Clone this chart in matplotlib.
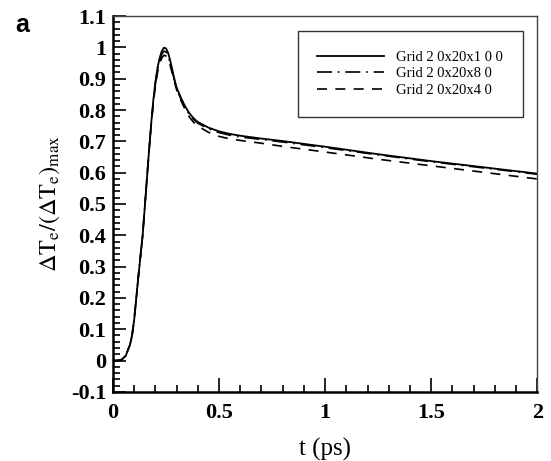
import numpy as np
import matplotlib
matplotlib.use("Agg")
import matplotlib.pyplot as plt

plt.rcParams['font.family'] = ['Liberation Serif', 'DejaVu Serif']
plt.rcParams['mathtext.fontset'] = 'stix'

# normalized electron temperature rise vs time for three grid sizes
t = [0.0, 0.02, 0.04, 0.06, 0.08, 0.09, 0.10, 0.11, 0.12, 0.13, 0.14, 0.15,
     0.16, 0.17, 0.18, 0.19, 0.20, 0.21, 0.22, 0.23, 0.24, 0.25, 0.26, 0.27,
     0.28, 0.29, 0.30, 0.32, 0.34, 0.36, 0.38, 0.40, 0.45, 0.50, 0.55, 0.60,
     0.70, 0.80, 1.00, 1.25, 1.50, 1.75, 2.00]

grid100 = [0.0, 0.0, 0.002, 0.015, 0.05, 0.08, 0.13, 0.20, 0.27, 0.335, 0.40, 0.49,
           0.58, 0.67, 0.755, 0.83, 0.89, 0.935, 0.966, 0.988, 0.999, 0.997, 0.983, 0.958,
           0.928, 0.898, 0.872, 0.84, 0.812, 0.79, 0.774, 0.762, 0.744, 0.732, 0.724, 0.718,
           0.709, 0.701, 0.683, 0.659, 0.637, 0.617, 0.597]

grid80 = [0.0, 0.0, 0.002, 0.015, 0.05, 0.08, 0.13, 0.20, 0.27, 0.335, 0.40, 0.49,
          0.58, 0.67, 0.752, 0.825, 0.884, 0.928, 0.958, 0.978, 0.988, 0.986, 0.973, 0.95,
          0.922, 0.894, 0.868, 0.836, 0.808, 0.786, 0.77, 0.758, 0.740, 0.728, 0.720, 0.714,
          0.706, 0.698, 0.680, 0.657, 0.635, 0.615, 0.595]

grid40 = [0.0, 0.0, 0.002, 0.015, 0.05, 0.08, 0.13, 0.20, 0.27, 0.335, 0.40, 0.49,
          0.58, 0.668, 0.75, 0.82, 0.877, 0.92, 0.948, 0.966, 0.975, 0.973, 0.962, 0.942,
          0.916, 0.89, 0.865, 0.831, 0.802, 0.778, 0.761, 0.749, 0.729, 0.716, 0.708, 0.703,
          0.694, 0.684, 0.666, 0.643, 0.622, 0.601, 0.58]

labels = ['Grid 2 0x20x1 0 0', 'Grid 2 0x20x8 0', 'Grid 2 0x20x4 0']

fig = plt.figure(figsize=(5.51, 4.61), dpi=100)
ax = fig.add_axes([0.205, 0.150, 0.77, 0.815])

ax.plot(t, grid100, color='black', lw=1.3, label=labels[0])
ax.plot(t, grid80, color='black', lw=1.2, dashes=(9, 3.5, 1, 3.5), label=labels[1])
ax.plot(t, grid40, color='black', lw=1.2, dashes=(6, 5), label=labels[2])

ax.set_xlim(0, 2)
ax.set_ylim(-0.1, 1.1)
ax.set_xticks([0, 0.5, 1, 1.5, 2])
ax.set_xticklabels(['0', '0.5', '1', '1.5', '2'])
ax.set_xticks(np.arange(0, 2.01, 0.1), minor=True)
yt = np.round(np.arange(-0.1, 1.11, 0.1), 1)
ax.set_yticks(yt)
ax.set_yticklabels(['-0.1', '0', '0.1', '0.2', '0.3', '0.4', '0.5', '0.6',
                    '0.7', '0.8', '0.9', '1', '1.1'])
ax.set_yticks(np.arange(-0.1, 1.101, 0.02), minor=True)

ax.tick_params(which='both', direction='in', top=False, right=False,
               labelsize=16, width=1.2)
ax.tick_params(axis='x', which='major', length=10, pad=8)
ax.tick_params(axis='x', which='minor', length=5)
ax.tick_params(axis='y', which='major', length=9, pad=5)
ax.tick_params(axis='y', which='minor', length=5)
for lab in ax.get_xticklabels() + ax.get_yticklabels():
    lab.set_fontweight('bold')

ax.spines['left'].set_linewidth(1.8)
ax.spines['bottom'].set_linewidth(1.8)
ax.spines['top'].set_linewidth(1.0)
ax.spines['right'].set_linewidth(1.0)
ax.spines['top'].set_color('#444444')
ax.spines['right'].set_color('#444444')

ax.set_xlabel('t (ps)', fontsize=18, labelpad=11)
ax.set_ylabel(r'$\Delta\mathrm{T}_\mathrm{e}/(\Delta\mathrm{T}_\mathrm{e})_\mathrm{max}$',
              fontsize=17.5, labelpad=6)

leg = ax.legend(loc='upper right', fontsize=10.5, frameon=True, fancybox=False,
                handlelength=4.6, handletextpad=0.8, borderpad=1.35,
                labelspacing=0.25, borderaxespad=1.0)
leg.get_frame().set_edgecolor('black')
leg.get_frame().set_linewidth(1.0)

fig.text(0.027, 0.945, 'a', fontsize=18, fontweight='bold',
         family='Liberation Sans', va='center')

fig.savefig('out.png', dpi=100)
